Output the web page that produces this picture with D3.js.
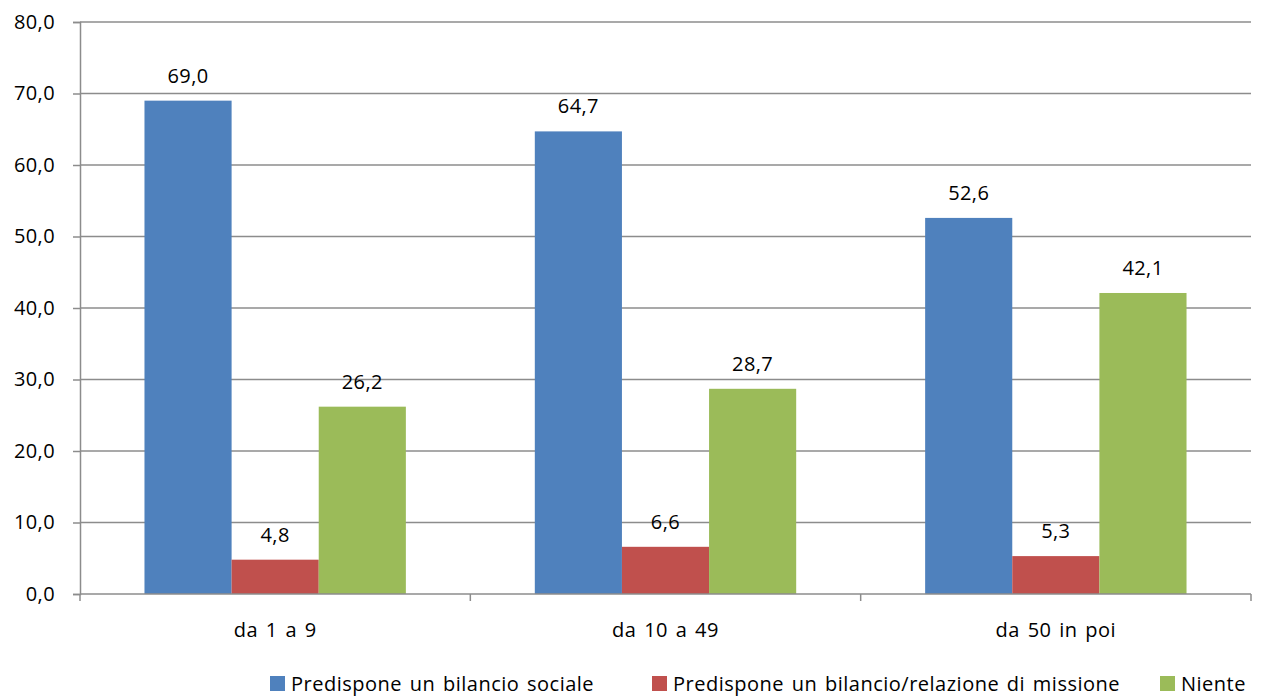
<!DOCTYPE html>
<html>
<head>
<meta charset="utf-8">
<script src="https://cdn.jsdelivr.net/npm/d3@7"></script>
<style>
  html, body { margin: 0; padding: 0; background: #fff; }
  text { font-family: "Open Sans", Lato, sans-serif; fill: #000; }
</style>
</head>
<body>
<svg id="chart" width="1262" height="696"></svg>
<script>
// Dimensione aziendale (numero addetti)
const categories = ["da 1 a 9", "da 10 a 49", "da 50 in poi"];
const seriesNames = [
  "Predispone un bilancio sociale",
  "Predispone un bilancio/relazione di missione",
  "Niente"
];
const bilancioSociale = [69.0, 64.7, 52.6];
const relazioneMissione = [4.8, 6.6, 5.3];
const niente = [26.2, 28.7, 42.1];
const yTicks = [0, 10, 20, 30, 40, 50, 60, 70, 80];
const colors = ["#4F81BD", "#C0504D", "#9BBB59"];

const series = [bilancioSociale, relazioneMissione, niente];

const svg = d3.select("#chart");
const margin = { left: 80, right: 11, top: 22, bottom: 102 };
const W = 1262, H = 696;
const innerW = W - margin.left - margin.right;
const innerH = H - margin.top - margin.bottom;
const FONT = 20;

const g = svg.append("g").attr("transform", `translate(${margin.left},${margin.top})`);

const x0 = d3.scaleBand().domain(categories).range([0, innerW]).paddingInner(0).paddingOuter(0);
const x1 = d3.scaleBand().domain(d3.range(series.length)).range([0, x0.bandwidth()]).paddingInner(0).paddingOuter(0.74);
const y = d3.scaleLinear().domain([0, 80]).range([innerH, 0]);

const fmt = v => d3.format(".1f")(v).replace(".", ",");

// horizontal gridlines
g.append("g").selectAll("line").data(yTicks.filter(t => t > 0)).join("line")
  .attr("x1", 0).attr("x2", innerW)
  .attr("y1", d => y(d)).attr("y2", d => y(d))
  .attr("stroke", "#8c8c8c").attr("stroke-width", 1.5);

// bars with value labels
const groups = g.append("g").selectAll("g").data(categories).join("g")
  .attr("transform", d => `translate(${x0(d)},0)`);

groups.each(function(cat, ci) {
  const sel = d3.select(this);
  series.forEach((vals, si) => {
    const v = vals[ci];
    sel.append("rect")
      .attr("x", x1(si)).attr("width", x1.bandwidth())
      .attr("y", y(v)).attr("height", y(0) - y(v))
      .attr("fill", colors[si]);
    sel.append("text")
      .attr("x", x1(si) + x1.bandwidth() / 2)
      .attr("y", y(v) - 18)
      .attr("text-anchor", "middle")
      .attr("font-size", FONT)
      .attr("letter-spacing", 0.4)
      .text(fmt(v));
  });
});

// y axis
const yAxis = d3.axisLeft(y).tickValues(yTicks).tickSize(7).tickPadding(18).tickFormat(fmt);
const ya = g.append("g").call(yAxis);
ya.select(".domain").attr("stroke", "#8c8c8c").attr("stroke-width", 1.5);
ya.selectAll(".tick line").attr("stroke", "#8c8c8c").attr("stroke-width", 1.5);
ya.selectAll(".tick text").attr("font-size", FONT).attr("letter-spacing", 0.4)
  .attr("font-family", "'Open Sans', Lato, sans-serif").attr("fill", "#000");

// x axis
const xa = g.append("g").attr("transform", `translate(0,${innerH})`);
xa.append("line").attr("x1", 0).attr("x2", innerW).attr("y1", 0).attr("y2", 0)
  .attr("stroke", "#8c8c8c").attr("stroke-width", 1.5);
const boundaries = categories.map(c => x0(c)).concat([innerW]);
xa.selectAll("line.tk").data(boundaries).join("line").attr("class", "tk")
  .attr("x1", d => d).attr("x2", d => d).attr("y1", 0).attr("y2", 7)
  .attr("stroke", "#8c8c8c").attr("stroke-width", 1.5);
xa.selectAll("text").data(categories).join("text")
  .attr("x", d => x0(d) + x0.bandwidth() / 2)
  .attr("y", 43)
  .attr("text-anchor", "middle")
  .attr("font-size", FONT)
  .attr("letter-spacing", 0.5)
  .attr("word-spacing", 2)
  .text(d => d);

// legend
const legendX = [270, 652, 1160];
const legend = svg.append("g");
seriesNames.forEach((name, i) => {
  legend.append("rect").attr("x", legendX[i]).attr("y", 676).attr("width", 15).attr("height", 15).attr("fill", colors[i]);
  legend.append("text").attr("x", legendX[i] + 21).attr("y", 691)
    .attr("font-size", FONT).attr("letter-spacing", 0.5).attr("word-spacing", 2).text(name);
});
</script>
</body>
</html>
